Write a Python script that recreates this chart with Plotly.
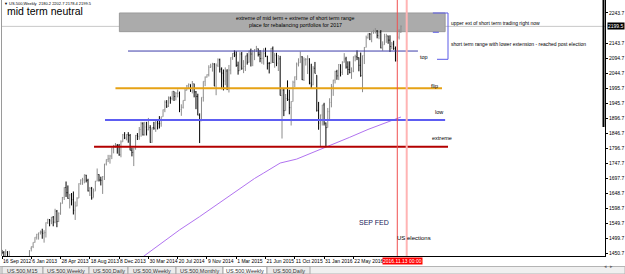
import pandas as pd
import plotly.graph_objects as go

# ---------------- data (weekly US.500 bars) ----------------
week_start = "2012-09-16"

opens = [1455, 1453, 1434, 1454, 1422, 1426, 1405, 1407, 1373, 1353, 1402, 1409, 1411, 1407, 1423, 1395,
         1466, 1472, 1486, 1503, 1513, 1518, 1520, 1516, 1518, 1551, 1561, 1557, 1569, 1553, 1589, 1555,
         1582, 1614, 1634, 1667, 1650, 1631, 1643, 1627, 1592, 1606, 1632, 1680, 1692, 1692, 1708, 1691,
         1656, 1664, 1633, 1655, 1688, 1710, 1692, 1691, 1703, 1745, 1760, 1762, 1771, 1798, 1805, 1806,
         1805, 1775, 1818, 1841,
         1831, 1842, 1839, 1790, 1783, 1797, 1839, 1836, 1859, 1878, 1841, 1867, 1858, 1865, 1816, 1865,
         1863, 1881, 1878, 1878, 1901, 1924, 1949, 1936, 1963, 1961, 1985, 1968, 1978, 1978, 1925, 1932,
         1955, 1988, 2003, 2008, 1986, 2010, 1983, 1968, 1906, 1887, 1965, 2018, 2032, 2040, 2064, 2068,
         2075, 2002, 2071, 2089,
         2058, 2045, 2019, 2052, 1995, 2055, 2097, 2110, 2105, 2071, 2053, 2108, 2061, 2067, 2102, 2081,
         2118, 2108, 2116, 2123, 2126, 2107, 2093, 2094, 2110, 2101, 2077, 2077, 2127, 2080, 2104, 2078,
         2092, 1971, 1989, 1921, 1961, 1958, 1931, 1951, 2015, 2033, 2075, 2079, 2099, 2023, 2089, 2090,
         2092, 2012, 2006, 2061,
         2038, 1922, 1880, 1907, 1940, 1880, 1865, 1918, 1948, 2000, 2022, 2050, 2036, 2073, 2048, 2081,
         2092, 2065, 2057, 2047, 2052, 2099, 2099, 2096, 2071, 2037, 2103, 2130, 2162, 2175, 2174, 2183,
         2184, 2184, 2169, 2180, 2128, 2139, 2165, 2168, 2154, 2133, 2141, 2126, 2085, 2164, 2180.2]

highs = [1461, 1457, 1463, 1457, 1458, 1429, 1427, 1427, 1381, 1402, 1415, 1417, 1431, 1441, 1423, 1460,
         1472, 1486, 1503, 1514, 1518, 1525, 1531, 1526, 1552, 1564, 1563, 1570, 1573, 1597, 1593, 1585,
         1618, 1636, 1668, 1687, 1674, 1646, 1649, 1654, 1621, 1635, 1681, 1694, 1699, 1710, 1709, 1696,
         1669, 1669, 1664, 1689, 1730, 1711, 1703, 1705, 1745, 1760, 1775, 1775, 1799, 1808, 1814, 1811,
         1811, 1823, 1844, 1850,
         1843, 1850, 1844, 1799, 1798, 1841, 1847, 1867, 1884, 1883, 1884, 1884, 1897, 1873, 1865, 1884,
         1891, 1889, 1903, 1901, 1925, 1955, 1956, 1968, 1968, 1985, 1985, 1983, 1991, 1984, 1942, 1955,
         1993, 2006, 2011, 2008, 2019, 2010, 1986, 1977, 1912, 1965, 2018, 2034, 2041, 2071, 2076, 2079,
         2078, 2077, 2094, 2093,
         2064, 2057, 2064, 2058, 2072, 2097, 2111, 2120, 2117, 2083, 2114, 2115, 2088, 2102, 2111, 2120,
         2126, 2121, 2124, 2135, 2126, 2121, 2115, 2127, 2129, 2102, 2082, 2128, 2133, 2112, 2112, 2105,
         2102, 1993, 1993, 1976, 2021, 1990, 1952, 2020, 2034, 2080, 2094, 2116, 2101, 2097, 2095, 2104,
         2094, 2076, 2068, 2082,
         2038, 1950, 1908, 1940, 1947, 1882, 1930, 1962, 2009, 2023, 2053, 2056, 2075, 2074, 2084, 2111,
         2099, 2084, 2084, 2064, 2100, 2106, 2120, 2097, 2113, 2103, 2131, 2169, 2176, 2177, 2183, 2188,
         2194, 2187, 2185, 2187, 2150, 2175, 2175, 2169, 2170, 2148, 2152, 2133, 2182, 2190, 2202.7]

lows = [1447, 1432, 1432, 1418, 1419, 1396, 1400, 1366, 1336, 1352, 1378, 1391, 1405, 1406, 1391, 1391,
        1456, 1467, 1485, 1495, 1495, 1512, 1498, 1485, 1502, 1547, 1539, 1546, 1539, 1549, 1536, 1553,
        1577, 1614, 1626, 1636, 1630, 1598, 1608, 1578, 1560, 1605, 1632, 1676, 1676, 1681, 1684, 1654,
        1639, 1627, 1634, 1656, 1688, 1687, 1674, 1646, 1692, 1740, 1751, 1746, 1761, 1780, 1799, 1779,
        1772, 1767, 1818, 1827,
        1823, 1815, 1790, 1770, 1738, 1792, 1824, 1825, 1835, 1839, 1839, 1839, 1856, 1815, 1815, 1858,
        1851, 1859, 1862, 1868, 1901, 1916, 1930, 1933, 1944, 1955, 1953, 1955, 1965, 1916, 1904, 1928,
        1953, 1988, 1992, 1983, 1978, 1965, 1926, 1906, 1814, 1887, 1951, 2002, 2030, 2034, 2062, 2050,
        2002, 1972, 2065, 2047,
        1992, 1988, 2005, 1989, 1981, 2041, 2089, 2098, 2066, 2040, 2053, 2056, 2045, 2052, 2073, 2080,
        2067, 2068, 2088, 2115, 2100, 2081, 2076, 2073, 2098, 2057, 2044, 2077, 2079, 2063, 2068, 2052,
        1971, 1829, 1903, 1921, 1953, 1909, 1872, 1951, 1999, 2022, 2067, 2079, 2022, 2019, 2070, 2042,
        2008, 1993, 2005, 2044,
        1918, 1858, 1804, 1872, 1872, 1802, 1865, 1891, 1932, 1970, 2011, 2023, 2022, 2034, 2039, 2080,
        2060, 2039, 2044, 2026, 2048, 2084, 2088, 2051, 2033, 1982, 2075, 2130, 2159, 2154, 2147, 2175,
        2176, 2160, 2157, 2127, 2119, 2139, 2145, 2142, 2115, 2124, 2122, 2084, 2084, 2156, 2178.4]

closes = [1453, 1434, 1454, 1422, 1426, 1405, 1407, 1373, 1353, 1402, 1409, 1411, 1407, 1423, 1395, 1459,
          1472, 1486, 1503, 1513, 1518, 1520, 1516, 1518, 1551, 1561, 1557, 1569, 1553, 1589, 1555, 1582,
          1614, 1634, 1667, 1650, 1631, 1643, 1627, 1592, 1606, 1632, 1680, 1692, 1692, 1710, 1691, 1656,
          1664, 1633, 1655, 1688, 1710, 1692, 1691, 1703, 1745, 1760, 1762, 1771, 1798, 1805, 1806, 1805,
          1775, 1818, 1841, 1831,
          1842, 1839, 1790, 1783, 1797, 1839, 1836, 1859, 1878, 1841, 1867, 1858, 1865, 1816, 1865, 1863,
          1881, 1878, 1878, 1901, 1924, 1949, 1936, 1963, 1961, 1985, 1968, 1978, 1978, 1925, 1932, 1955,
          1988, 2003, 2008, 1986, 2010, 1983, 1968, 1906, 1887, 1965, 2018, 2032, 2040, 2064, 2068, 2075,
          2002, 2071, 2089, 2058,
          2045, 2019, 2052, 1995, 2055, 2097, 2110, 2105, 2071, 2053, 2108, 2061, 2067, 2102, 2081, 2118,
          2108, 2116, 2123, 2126, 2107, 2093, 2094, 2110, 2101, 2077, 2077, 2127, 2080, 2104, 2078, 2092,
          1971, 1989, 1921, 1961, 1958, 1931, 1951, 2015, 2033, 2075, 2079, 2099, 2023, 2089, 2090, 2092,
          2012, 2006, 2061, 2044,
          1922, 1880, 1907, 1940, 1880, 1865, 1918, 1948, 2000, 2022, 2050, 2036, 2073, 2048, 2081, 2092,
          2065, 2057, 2047, 2052, 2099, 2099, 2096, 2071, 2037, 2103, 2130, 2162, 2175, 2174, 2183, 2184,
          2184, 2169, 2180, 2128, 2139, 2165, 2168, 2154, 2133, 2141, 2126, 2085, 2164, 2182, 2199.5]

# 200-week moving average (purple)
ma_dates = ["2014-02-02", "2014-03-09", "2014-05-25", "2014-07-27", "2014-10-12", "2014-12-21",
            "2015-03-01", "2015-05-10", "2015-06-14", "2015-08-16", "2015-10-18", "2015-12-20",
            "2016-02-14", "2016-05-08", "2016-07-17", "2016-09-25", "2016-11-20"]
ma_values = [1416, 1438, 1487, 1527, 1571, 1613, 1656, 1697, 1715, 1748, 1761, 1783,
             1802, 1833, 1859, 1882, 1900]

# horizontal levels
level_names = ["top", "flip", "low", "extreme"]
level_prices = [2118.0, 1995.0, 1890.0, 1802.0]
level_from = ["2014-01-11", "2013-11-24", "2013-10-15", "2013-09-03"]
level_to = ["2017-01-24", "2017-04-26", "2017-05-08", "2017-05-19"]
level_label_dates = ["2017-02-18", "2017-03-27", "2017-04-13", "2017-04-25"]
level_label_prices = [2099, 2002, 1918, 1830]

# shaded zone
zone_from, zone_to = "2013-12-09", "2017-05-08"
zone_low, zone_high = 2182.0, 2243.7
zone_text = ["extreme of mid term + extreme of short term range",
             "place for rebalancing portfolios for 2017"]
zone_text_date = "2015-10-14"
zone_text_prices = [2226, 2204]

# bracket on the right
br_left, br_short_end, br_bottom_left, br_right = "2017-03-22", "2017-04-14", "2017-04-07", "2017-05-19"
br_top, br_mid, br_bottom = 2243.7, 2180.0, 2090.7
br_texts = ["upper ext of short term trading right now",
            "short term range with lower extension - reached post election"]
br_text_prices = [2211.6, 2141.3]
br_text_date = "2017-05-21"

# vertical markers
election_date = "2016-11-06"
crosshair_date = "2016-12-12"
event_labels = ["SEP FED", "US elections"]
event_dates = ["2016-08-07", "2017-01-08"]
event_prices = [1551, 1501]

last_price = 2199.5
y_ticks = [2243.7, 2143.7, 2094.7, 2044.7, 1995.7, 1945.7, 1896.7, 1846.7,
           1796.7, 1747.7, 1697.7, 1648.7, 1598.7, 1549.7, 1499.7, 1450.7]
tab_labels = ["US.500,M15", "US.500,Weekly", "US.500,Daily", "US.500,Weekly",
              "US.500,Monthly", "US.500,Weekly", "US.500,Daily"]
active_tab = 5

# ---------------- figure ----------------
dates = pd.date_range(week_start, periods=len(closes), freq="7D")
x_ticks = list(dates[::16][:13])
x_end = pd.Timestamp(week_start) + pd.Timedelta(weeks=329.5)

FONT = "Liberation Sans"
W, H = 625, 274
ML, MR, MT, MB = 2, 20, 0, 18
PW, PH = W - ML - MR, H - MT - MB


def px_x(px):
    return (px - ML) / PW


def px_y(py):
    return (PH - py) / PH


fig = go.Figure()
fig.add_trace(go.Ohlc(
    x=dates, open=opens, high=highs, low=lows, close=closes,
    increasing=dict(line=dict(color="#8c8c8c", width=1)),
    decreasing=dict(line=dict(color="#000000", width=1)),
    tickwidth=0.3, showlegend=False, hoverinfo="skip"))
fig.add_trace(go.Scatter(x=ma_dates, y=ma_values, mode="lines",
                         line=dict(color="#b173f0", width=1), showlegend=False, hoverinfo="skip"))

shapes = []
# shaded zone (background)
shapes.append(dict(type="rect", xref="x", yref="y", x0=zone_from, x1=zone_to, y0=zone_low, y1=zone_high,
                   fillcolor="#ababab", line=dict(color="#9a9a9a", width=1), layer="below"))
# bid line
shapes.append(dict(type="line", xref="paper", yref="y", x0=0, x1=1, y0=last_price, y1=last_price,
                   line=dict(color="#c8c8c8", width=1), layer="below"))
level_colors = ["#3c3caa", "#e6a215", "#5d5df2", "#b30000"]
level_widths = [1, 2, 2, 2]
for p, a, b, c, w in zip(level_prices, level_from, level_to, level_colors, level_widths):
    shapes.append(dict(type="line", xref="x", yref="y", x0=a, x1=b, y0=p, y1=p,
                       line=dict(color=c, width=w)))
# bracket
bc = dict(color="#5a5ae6", width=1)
shapes += [
    dict(type="line", xref="x", yref="y", x0=br_left, x1=br_right, y0=br_top, y1=br_top, line=bc),
    dict(type="line", xref="x", yref="y", x0=br_right, x1=br_right, y0=br_top, y1=br_bottom, line=bc),
    dict(type="line", xref="x", yref="y", x0=br_left, x1=br_short_end, y0=br_mid, y1=br_mid, line=bc),
    dict(type="line", xref="x", yref="y", x0=br_bottom_left, x1=br_right, y0=br_bottom, y1=br_bottom, line=bc),
]
# vertical lines
shapes.append(dict(type="line", xref="x", yref="paper", x0=election_date, x1=election_date, y0=0, y1=1,
                   line=dict(color="#f05050", width=1)))
shapes.append(dict(type="line", xref="x", yref="paper", x0=crosshair_date, x1=crosshair_date, y0=0, y1=1,
                   line=dict(color="#ffb4b4", width=2)))
# left border and thick right-axis segment
shapes.append(dict(type="line", xref="paper", yref="paper", x0=px_x(1.5), x1=px_x(1.5), y0=0, y1=1,
                   line=dict(color="#9a9a9a", width=1)))
shapes.append(dict(type="line", xref="paper", yref="paper", x0=px_x(603.5), x1=px_x(603.5),
                   y0=px_y(127), y1=1, line=dict(color="#000000", width=2)))

# tab bar (drawn beneath the axis labels)
shapes.append(dict(type="rect", xref="paper", yref="paper", x0=px_x(0), x1=px_x(625),
                   y0=px_y(274), y1=px_y(266.5), fillcolor="#f0f0f0",
                   line=dict(color="#b4b4b4", width=1), layer="below"))
tab_edges = [2, 43, 89, 128, 176, 223, 267, 310]
annotations = []
for i, lab in enumerate(tab_labels):
    x0, x1 = tab_edges[i], tab_edges[i + 1]
    shapes.append(dict(type="rect", xref="paper", yref="paper", x0=px_x(x0), x1=px_x(x1),
                       y0=px_y(274), y1=px_y(266.5),
                       fillcolor="#ffffff" if i == active_tab else "#ececec",
                       line=dict(color="#a8a8a8", width=1), layer="below"))
    annotations.append(dict(xref="paper", yref="paper", x=px_x((x0 + x1) / 2), y=px_y(270.8),
                            text=lab, showarrow=False, xanchor="center", yanchor="middle",
                            font=dict(family=FONT, size=5.5, color="#333333")))
annotations.append(dict(xref="paper", yref="paper", x=px_x(615), y=px_y(270.8), text="◂  ▸",
                        showarrow=False, font=dict(family=FONT, size=5, color="#666666")))

# texts
annotations.append(dict(xref="paper", yref="paper", x=px_x(5), y=px_y(11), text="mid term neutral",
                        showarrow=False, xanchor="left", yanchor="middle",
                        font=dict(family=FONT, size=10.5, color="#000000")))
annotations.append(dict(xref="paper", yref="paper", x=px_x(2), y=px_y(3),
                        text="▼ US.500,Weekly  2180.2 2202.7 2178.4 2199.5",
                        showarrow=False, xanchor="left", yanchor="middle",
                        font=dict(family=FONT, size=4, color="#000000")))
for t, p in zip(zone_text, zone_text_prices):
    annotations.append(dict(x=zone_text_date, y=p, text=t, showarrow=False, xanchor="center",
                            yanchor="middle", font=dict(family=FONT, size=5.3, color="#000000")))
for t, p in zip(br_texts, br_text_prices):
    annotations.append(dict(x=br_text_date, y=p, text=t, showarrow=False, xanchor="left",
                            yanchor="middle", font=dict(family=FONT, size=5, color="#000000")))
for n, d, p in zip(level_names, level_label_dates, level_label_prices):
    annotations.append(dict(x=d, y=p, text=n, showarrow=False, xanchor="center", yanchor="middle",
                            font=dict(family=FONT, size=5.5, color="#000000")))
annotations.append(dict(x=event_dates[0], y=event_prices[0], text=event_labels[0], showarrow=False,
                        xanchor="center", yanchor="middle",
                        font=dict(family=FONT, size=7, color="#1a1a5a")))
annotations.append(dict(x=event_dates[1], y=event_prices[1], text=event_labels[1], showarrow=False,
                        xanchor="center", yanchor="middle",
                        font=dict(family=FONT, size=6, color="#000000")))
# last price marker on the axis
annotations.append(dict(xref="paper", yref="y", x=1, y=last_price, text=f"{last_price:.1f}",
                        showarrow=False, xanchor="left", yanchor="middle", xshift=2,
                        bgcolor="#000000", borderpad=0,
                        font=dict(family=FONT, size=5, color="#ffffff")))
# time label box
annotations.append(dict(xref="paper", yref="paper", x=px_x(402.5), y=px_y(260.5), text="2016.11.13 00:00",
                        showarrow=False, xanchor="center", yanchor="middle", bgcolor="#ff0000",
                        borderpad=0, font=dict(family=FONT, size=5, color="#ffffff")))

fig.update_layout(
    width=W, height=H, margin=dict(l=ML, r=MR, t=MT, b=MB),
    paper_bgcolor="#ffffff", plot_bgcolor="#ffffff",
    shapes=shapes, annotations=annotations, showlegend=False,
    xaxis=dict(type="date", range=[pd.Timestamp(week_start), x_end], rangeslider=dict(visible=False),
               tickvals=x_ticks, tickformat="%-d %b %Y", ticklabelposition="outside right",
               tickangle=0, automargin=False,
               ticks="outside", ticklen=2, tickcolor="#000000", showgrid=False, zeroline=False,
               showline=True, linecolor="#000000", linewidth=1, ticklabelstandoff=0,
               tickfont=dict(family=FONT, size=5, color="#000000")),
    yaxis=dict(range=[1440.9, 2286.6], side="right", tickvals=y_ticks, automargin=False,
               ticktext=[f"{v:.1f}" for v in y_ticks], ticks="outside", ticklen=2, tickcolor="#000000",
               showgrid=False, zeroline=False, showline=True, linecolor="#000000", linewidth=1,
               tickfont=dict(family=FONT, size=5, color="#000000")),
)

fig.write_html("out.html")
